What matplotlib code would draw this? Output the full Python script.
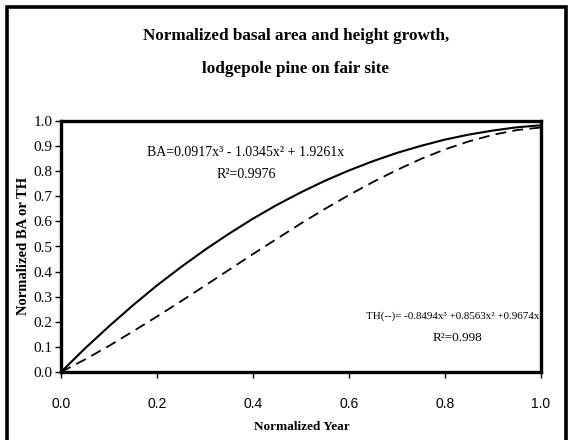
import matplotlib
matplotlib.use("Agg")
import matplotlib.pyplot as plt
from matplotlib.patches import Rectangle

# ---------- data ----------

years = [0.00, 0.05, 0.10, 0.15, 0.20, 0.25, 0.30, 0.35, 0.40, 0.45, 0.50,
         0.55, 0.60, 0.65, 0.70, 0.75, 0.80, 0.85, 0.90, 0.95, 1.00]
ba_values = [0.000, 0.094, 0.182, 0.266, 0.345, 0.418, 0.487, 0.551, 0.611, 0.666, 0.716,
             0.762, 0.803, 0.840, 0.873, 0.901, 0.926, 0.946, 0.962, 0.975, 0.983]
th_values = [0.000, 0.050, 0.104, 0.162, 0.221, 0.282, 0.344, 0.407, 0.470, 0.531, 0.592,
             0.650, 0.705, 0.757, 0.805, 0.849, 0.887, 0.919, 0.945, 0.964, 0.974]

x_ticks = [0.0, 0.2, 0.4, 0.6, 0.8, 1.0]
y_ticks = [0.0, 0.1, 0.2, 0.3, 0.4, 0.5, 0.6, 0.7, 0.8, 0.9, 1.0]

title_lines = ["Normalized basal area and height growth,", "lodgepole pine on fair site"]
ba_label = ["BA=0.0917x³ - 1.0345x² + 1.9261x", "R²=0.9976"]
th_label = ["TH(--)= -0.8494x³ +0.8563x² +0.9674x", "R²=0.998"]

# ---------- figure ----------

W, H = 571, 440
SERIF = ["Liberation Serif", "DejaVu Serif"]
SANS = ["Liberation Sans", "DejaVu Sans"]

fig = plt.figure(figsize=(W / 100, H / 100), dpi=100)


def fx(px):
    return px / W


def fy(py):
    return 1 - py / H


# outer chart border (left, top, right)
fig.patches.append(Rectangle((fx(7), -0.1), fx(566 - 7), 0.1 + fy(7),
                             transform=fig.transFigure, fill=False,
                             edgecolor="black", linewidth=2.6, clip_on=False))

ax = fig.add_axes([fx(61), fy(372), fx(541 - 61), fy(121) - fy(372)])

ax.plot(years, ba_values, color="black", linewidth=1.5)
ax.plot(years, th_values, color="black", linewidth=1.3, linestyle=(0, (6, 3.5)))

ax.set_xlim(0, 1)
ax.set_ylim(0, 1)
ax.set_xticks(x_ticks)
ax.set_yticks(y_ticks)
ax.set_xticklabels([f"{t:.1f}" for t in x_ticks], family=SANS, fontsize=10)
ax.set_yticklabels([f"{t:.1f}" for t in y_ticks], family=SERIF, fontsize=11)
ax.tick_params(direction="out", length=4, width=1, pad=2)
ax.tick_params(axis="x", pad=14)

for spine in ax.spines.values():
    spine.set_linewidth(2.4)

# titles and axis labels
fig.text(fx(296), fy(36), title_lines[0], ha="center", va="center",
         family=SERIF, fontweight="bold", fontsize=12.3)
fig.text(fx(296), fy(69), title_lines[1], ha="center", va="center",
         family=SERIF, fontweight="bold", fontsize=12.3)
fig.text(fx(302), fy(427), "Normalized Year", ha="center", va="center",
         family=SERIF, fontweight="bold", fontsize=9.5)
fig.text(fx(24), fy(246), "Normalized BA or TH", ha="center", va="center",
         rotation=90, family=SERIF, fontweight="bold", fontsize=10.5)

# regression equations
fig.text(fx(246), fy(153), ba_label[0], ha="center", va="center", family=SERIF, fontsize=10)
fig.text(fx(246), fy(175), ba_label[1], ha="center", va="center", family=SERIF, fontsize=10)
fig.text(fx(453), fy(316), th_label[0], ha="center", va="center", family=SERIF, fontsize=7.9)
fig.text(fx(457), fy(338), th_label[1], ha="center", va="center", family=SERIF, fontsize=9.5)

fig.savefig("out.png", dpi=100)
